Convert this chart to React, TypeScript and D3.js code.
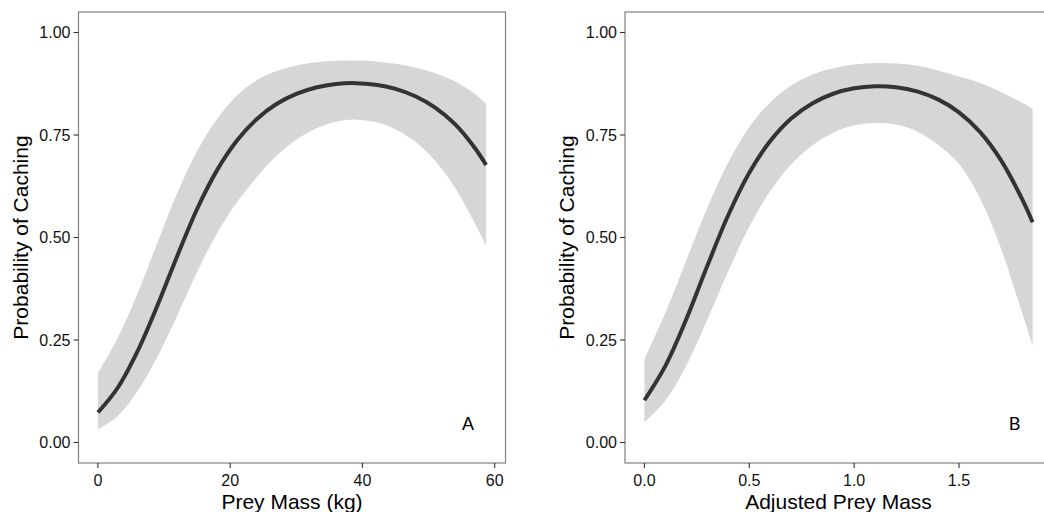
import React from "react";
import * as d3 from "d3";

// Panel A: Prey Mass (kg)
const massKg = [0, 3, 6, 9, 12, 15, 18, 21, 24, 27, 30, 33, 36, 39, 42, 45, 48, 51, 54, 57, 58.7];
const fitA = [0.0731, 0.1335, 0.2227, 0.334, 0.455, 0.5695, 0.6637, 0.7358, 0.7886, 0.8255, 0.8503, 0.8659, 0.8744, 0.8765, 0.8727, 0.8625, 0.8446, 0.817, 0.7764, 0.7184, 0.677];
const upperA = [0.169, 0.2554, 0.3635, 0.4875, 0.6083, 0.711, 0.7892, 0.846, 0.8835, 0.9059, 0.9196, 0.9272, 0.9309, 0.9315, 0.9292, 0.9239, 0.9147, 0.9008, 0.8802, 0.8503, 0.8264];
const lowerA = [0.032, 0.0648, 0.1256, 0.2092, 0.31, 0.4158, 0.51, 0.5852, 0.647, 0.6993, 0.7383, 0.7659, 0.7825, 0.7875, 0.7816, 0.7642, 0.7336, 0.687, 0.6211, 0.5342, 0.48];
const ticksA = [0, 20, 40, 60];

// Panel B: Adjusted Prey Mass
const adjMass = [0, 0.1, 0.2, 0.3, 0.4, 0.5, 0.6, 0.7, 0.8, 0.9, 1.0, 1.1, 1.2, 1.3, 1.4, 1.5, 1.6, 1.7, 1.8, 1.851];
const fitB = [0.1031, 0.187, 0.3011, 0.4309, 0.5548, 0.6579, 0.7354, 0.7902, 0.827, 0.8506, 0.8639, 0.869, 0.8666, 0.8564, 0.8368, 0.8053, 0.7575, 0.6887, 0.5948, 0.5374];
const upperB = [0.2037, 0.3165, 0.4447, 0.5725, 0.6835, 0.7692, 0.8295, 0.8706, 0.8971, 0.9128, 0.9218, 0.9257, 0.9242, 0.9188, 0.9075, 0.8925, 0.877, 0.855, 0.829, 0.813];
const lowerB = [0.0491, 0.1025, 0.1881, 0.2999, 0.4182, 0.526, 0.6135, 0.6783, 0.7241, 0.7556, 0.7735, 0.7794, 0.7757, 0.7588, 0.7261, 0.6792, 0.596, 0.4735, 0.3174, 0.2369];
const ticksB = [0, 0.5, 1.0, 1.5];

const yTicks = [0, 0.25, 0.5, 0.75, 1.0];

const FONT = "'Liberation Sans', Arial, Helvetica, sans-serif";

type PanelProps = {
  left: number;
  xs: number[];
  fit: number[];
  lo: number[];
  hi: number[];
  xTicks: number[];
  xFmt: (v: number) => string;
  xTitle: string;
  label: string;
  labelFont: string;
  id: string;
};

function Panel({ left, xs, fit, lo, hi, xTicks, xFmt, xTitle, label, labelFont, id }: PanelProps) {
  const width = 427;
  const top = 12;
  const bottom = 463;
  const minX = d3.min(xs) as number;
  const maxX = d3.max(xs) as number;
  const pad = (maxX - minX) * 0.05;
  const x = d3.scaleLinear().domain([minX - pad, maxX + pad]).range([left, left + width]);
  const y = d3.scaleLinear().domain([-0.05, 1.05]).range([bottom, top]);

  const idx = xs.map((_, i) => i);
  const curve = d3.curveCatmullRom.alpha(0.5);
  const area = d3
    .area<number>()
    .x((i) => x(xs[i]))
    .y0((i) => y(lo[i]))
    .y1((i) => y(hi[i]))
    .curve(curve);
  const line = d3
    .line<number>()
    .x((i) => x(xs[i]))
    .y((i) => y(fit[i]))
    .curve(curve);

  const cx = left + width / 2;
  const cy = (top + bottom) / 2;

  return (
    <g>
      <defs>
        <clipPath id={id}>
          <rect x={left} y={top} width={width} height={bottom - top} />
        </clipPath>
      </defs>
      <rect x={left} y={top} width={width} height={bottom - top} fill="#ffffff" />
      <g clipPath={`url(#${id})`}>
        <path d={area(idx) || ""} fill="#d6d6d6" />
        <path d={line(idx) || ""} fill="none" stroke="#333333" strokeWidth={4} />
      </g>
      <rect x={left} y={top} width={width} height={bottom - top} fill="none" stroke="#808080" strokeWidth={1.2} />
      {yTicks.map((t) => (
        <g key={"y" + t}>
          <line x1={left - 5} x2={left} y1={y(t)} y2={y(t)} stroke="#333" strokeWidth={1.1} />
          <text x={left - 8} y={y(t)} dy="0.36em" textAnchor="end" fontSize={16} fontFamily={FONT} fill="#111">
            {d3.format(".2f")(t)}
          </text>
        </g>
      ))}
      {xTicks.map((t) => (
        <g key={"x" + t}>
          <line x1={x(t)} x2={x(t)} y1={bottom} y2={bottom + 5} stroke="#333" strokeWidth={1.1} />
          <text x={x(t)} y={486} textAnchor="middle" fontSize={16} fontFamily={FONT} fill="#111">
            {xFmt(t)}
          </text>
        </g>
      ))}
      <text x={cx} y={509} textAnchor="middle" fontSize={21} fontFamily={FONT} fill="#000">
        {xTitle}
      </text>
      <text
        transform={`translate(${left - 51},${cy}) rotate(-90)`}
        textAnchor="middle"
        fontSize={21}
        fontFamily={FONT}
        fill="#000"
      >
        Probability of Caching
      </text>
      <text x={x(maxX) - 18} y={430} textAnchor="middle" fontSize={18} fontFamily={labelFont} fill="#000">
        {label}
      </text>
    </g>
  );
}

export default function App() {
  return (
    <svg
      width={1044}
      height={512}
      style={{ position: "absolute", left: 0, top: 0, background: "#fff" }}
    >
      <rect width={1044} height={512} fill="#fff" />
      <Panel
        left={78.5}
        xs={massKg}
        fit={fitA}
        lo={lowerA}
        hi={upperA}
        xTicks={ticksA}
        xFmt={(v) => d3.format("d")(v)}
        xTitle="Prey Mass (kg)"
        label="A"
        labelFont={FONT}
        id="clipA"
      />
      <Panel
        left={625}
        xs={adjMass}
        fit={fitB}
        lo={lowerB}
        hi={upperB}
        xTicks={ticksB}
        xFmt={(v) => d3.format(".1f")(v)}
        xTitle="Adjusted Prey Mass"
        label="B"
        labelFont="Lato, 'Open Sans', sans-serif"
        id="clipB"
      />
    </svg>
  );
}
